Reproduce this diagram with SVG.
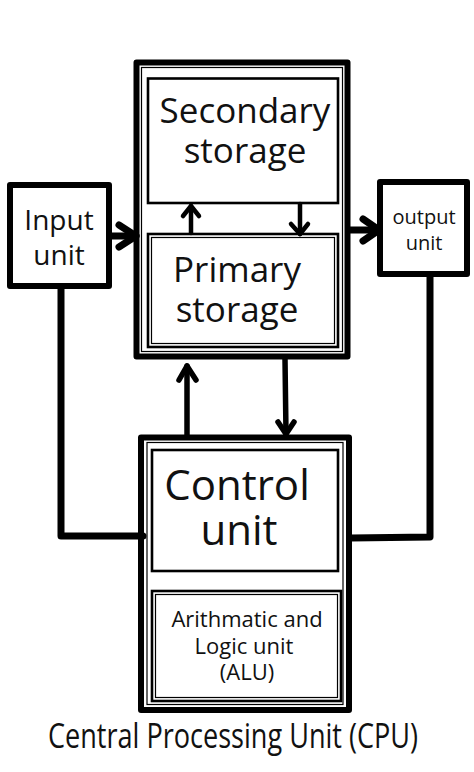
<svg xmlns="http://www.w3.org/2000/svg" width="474" height="772" viewBox="0 0 474 772">
<style>
.thick{fill:none;stroke:#000;stroke-width:6;stroke-linejoin:round}
.thin{fill:none;stroke:#000;stroke-width:1.2}
.box{fill:none;stroke:#000;stroke-width:2.6}
.t{font-family:"Open Sans","Noto Sans",sans-serif;fill:#111;text-anchor:middle}
.wire{fill:none;stroke:#000;stroke-width:7;stroke-linecap:round;stroke-linejoin:round}
.ar7{fill:none;stroke:#000;stroke-width:7;stroke-linecap:round;stroke-linejoin:round}
.ar{fill:none;stroke:#000;stroke-width:5.5;stroke-linecap:round;stroke-linejoin:round}
.ar4{fill:none;stroke:#000;stroke-width:4.5;stroke-linecap:round;stroke-linejoin:round}
</style>
<rect width="474" height="772" fill="#fff"/>
<g id="memory">
<rect class="thick" x="136.5" y="62.5" width="211" height="294"/>
<rect class="thin" x="141.5" y="67.5" width="201" height="284"/>
</g>
<g id="secondary-storage">
<rect class="box" x="148" y="78.5" width="190" height="124.5"/>
<text class="t" x="245" y="123" font-size="35">Secondary</text>
<text class="t" x="245" y="163" font-size="35">storage</text>
</g>
<g id="primary-storage">
<rect class="box" x="148" y="234" width="190" height="113"/>
<rect class="thin" x="151.5" y="237.5" width="183" height="106"/>
<text class="t" x="237" y="282" font-size="35">Primary</text>
<text class="t" x="237" y="322" font-size="35">storage</text>
</g>
<g id="input-unit">
<rect class="thick" x="10" y="185" width="99" height="101"/>
<text class="t" x="59" y="230" font-size="28">Input</text>
<text class="t" x="59" y="265" font-size="28">unit</text>
</g>
<g id="output-unit">
<rect class="thick" x="380" y="182" width="87" height="92"/>
<text class="t" x="424" y="224" font-size="20">output</text>
<text class="t" x="424" y="250" font-size="20">unit</text>
</g>
<g id="cpu">
<rect class="thick" x="141" y="437.5" width="208" height="272.5"/>
<rect class="thin" x="147" y="442.5" width="196" height="262"/>
</g>
<g id="control-unit">
<rect class="box" x="152" y="450" width="186" height="121"/>
<text class="t" x="237" y="500" font-size="42">Control</text>
<text class="t" x="239" y="545" font-size="42">unit</text>
</g>
<g id="alu">
<rect class="box" x="152" y="591" width="189" height="110"/>
<rect class="thin" x="155.5" y="594.5" width="182" height="103"/>
<text class="t" x="247" y="627" font-size="22">Arithmatic and</text>
<text class="t" x="244" y="654" font-size="22">Logic unit</text>
<text class="t" x="247" y="680" font-size="22">(ALU)</text>
</g>
<g id="connectors">
<line class="ar7" x1="110" y1="236" x2="136" y2="236"/>
<polyline class="ar7" points="119,225 136,236 119,247"/>
<line class="ar7" x1="350" y1="230" x2="379" y2="230"/>
<polyline class="ar7" points="363,219 379,230 363,241"/>
<line class="ar4" x1="191" y1="233" x2="191" y2="206"/>
<polyline class="ar4" points="183,216 191,206 199,216"/>
<line class="ar4" x1="300" y1="204" x2="300" y2="234"/>
<polyline class="ar4" points="291,224 300,234 308,224"/>
<line class="ar" x1="187" y1="435" x2="187" y2="366"/>
<polyline class="ar" points="179,380 187,366 196,380"/>
<line class="ar" x1="285" y1="359" x2="286" y2="434"/>
<polyline class="ar" points="278,422 286,434 294,422"/>
<polyline class="wire" points="61,288 61,536 143,536"/>
<polyline class="wire" points="430,275 430,537 351,538"/>
</g>
<text class="t" x="233" y="748" font-size="35" textLength="370" lengthAdjust="spacingAndGlyphs">Central Processing Unit (CPU)</text>
</svg>
